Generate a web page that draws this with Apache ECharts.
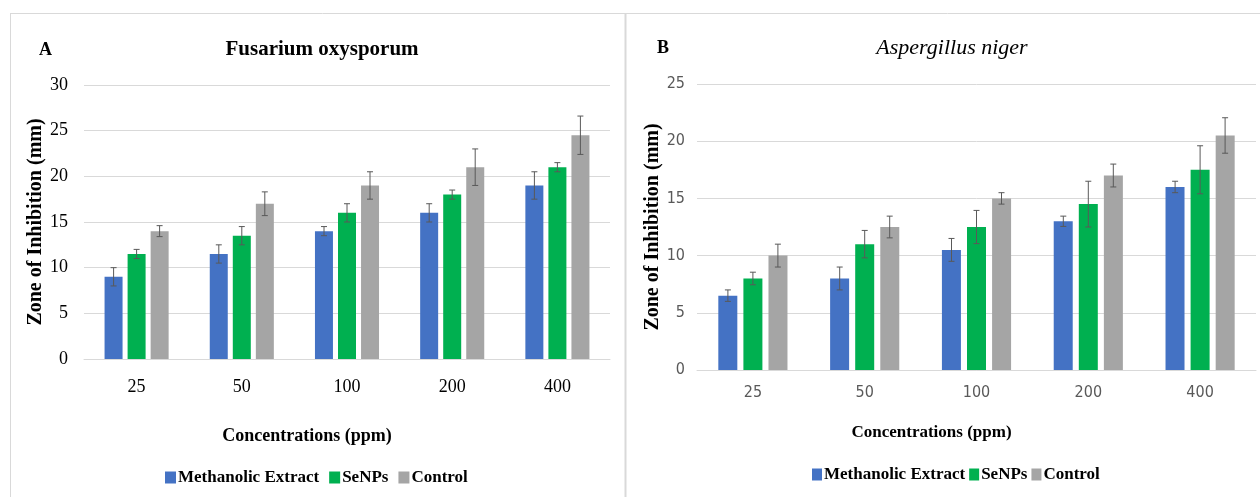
<!DOCTYPE html>
<html>
<head>
<meta charset="utf-8">
<script src="https://cdn.jsdelivr.net/npm/echarts@6/dist/echarts.min.js"></script>
<style>
  html, body { margin: 0; padding: 0; background: #fff; }
  #chart { width: 1260px; height: 497px; }
</style>
</head>
<body>
<div id="chart"></div>
<script>
const METH_COLOR = '#4472c4'
const SENP_COLOR = '#00b050'
const CTRL_COLOR = '#a5a5a5'
const ERR_COLOR = '#595959'
const GRID_COLOR = '#d9d9d9'
const SERIF = '"Liberation Serif", "Times New Roman", serif'
const NARROW = '"Liberation Sans Narrow", "DejaVu Sans Condensed", sans-serif'

const CATEGORIES = ['25', '50', '100', '200', '400']
const SERIES_NAMES = ['Methanolic Extract', 'SeNPs', 'Control']

// A - Fusarium oxysporum
const FUS_METH = [9, 11.5, 14, 16, 19]
const FUS_METH_ERR = [1, 1, 0.5, 1, 1.5]
const FUS_SENP = [11.5, 13.5, 16, 18, 21]
const FUS_SENP_ERR = [0.5, 1, 1, 0.5, 0.5]
const FUS_CTRL = [14, 17, 19, 21, 24.5]
const FUS_CTRL_ERR = [0.6, 1.3, 1.5, 2, 2.1]
const FUS_Y_MAX = 30

// B - Aspergillus niger
const ASP_METH = [6.5, 8, 10.5, 13, 16]
const ASP_METH_ERR = [0.5, 1, 1, 0.45, 0.5]
const ASP_SENP = [8, 11, 12.5, 14.5, 17.5]
const ASP_SENP_ERR = [0.55, 1.2, 1.45, 2, 2.1]
const ASP_CTRL = [10, 12.5, 15, 17, 20.5]
const ASP_CTRL_ERR = [1, 0.95, 0.5, 1, 1.55]
const ASP_Y_MAX = 25

const Y_STEP = 5

const errorRender = (offset) => (params, api) => {
  const lo = api.coord([api.value(0), api.value(1)])
  const hi = api.coord([api.value(0), api.value(2)])
  const x = lo[0] + offset
  const style = { stroke: ERR_COLOR, lineWidth: 1 }
  return {
    type: 'group',
    children: [
      { type: 'line', shape: { x1: x, y1: lo[1], x2: x, y2: hi[1] }, style },
      { type: 'line', shape: { x1: x - 3, y1: lo[1], x2: x + 3, y2: lo[1] }, style },
      { type: 'line', shape: { x1: x - 3, y1: hi[1], x2: x + 3, y2: hi[1] }, style }
    ]
  }
}

const makeSeries = (gridIdx, groups, barW, gap) => {
  const colors = [METH_COLOR, SENP_COLOR, CTRL_COLOR]
  const out = []
  groups.forEach((g, i) => {
    out.push({
      name: SERIES_NAMES[i],
      type: 'bar',
      xAxisIndex: gridIdx,
      yAxisIndex: gridIdx,
      barWidth: barW,
      barGap: Math.round(gap / barW * 100) + '%',
      itemStyle: { color: colors[i] },
      data: g.values
    })
  })
  groups.forEach((g, i) => {
    out.push({
      type: 'custom',
      xAxisIndex: gridIdx,
      yAxisIndex: gridIdx,
      z: 5,
      silent: true,
      renderItem: errorRender((i - 1) * (barW + gap)),
      encode: { x: 0, y: [1, 2] },
      data: g.values.map((v, k) => [k, v - g.errs[k], v + g.errs[k]])
    })
  })
  return out
}

const chart = echarts.init(document.getElementById('chart'))

const leftAxisText = { fontFamily: SERIF, fontSize: 18, color: '#000' }
const rightAxisText = { fontFamily: NARROW, fontSize: 16, color: '#595959' }

chart.setOption({
  animation: false,
  title: [
    { text: 'A', left: 34, top: 36, textStyle: { fontFamily: SERIF, fontWeight: 'bold', fontSize: 18, color: '#000' } },
    { text: 'Fusarium oxysporum', left: 317, top: 34, textAlign: 'center', textStyle: { fontFamily: SERIF, fontWeight: 'bold', fontSize: 21, color: '#000' } },
    { text: 'B', left: 652, top: 34, textStyle: { fontFamily: SERIF, fontWeight: 'bold', fontSize: 18, color: '#000' } },
    { text: 'Aspergillus niger', left: 947, top: 32, textAlign: 'center', textStyle: { fontFamily: SERIF, fontStyle: 'italic', fontWeight: 'normal', fontSize: 22, color: '#000' } }
  ],
  legend: [
    {
      data: SERIES_NAMES, left: 160, top: 464, itemWidth: 11, itemHeight: 12, itemGap: 10,
      icon: 'rect', textStyle: { fontFamily: SERIF, fontWeight: 'bold', fontSize: 17, color: '#000', padding: [0, 0, 0, -3] }
    },
    {
      data: SERIES_NAMES, left: 807, top: 461, itemWidth: 10, itemHeight: 12, itemGap: 4,
      icon: 'rect', textStyle: { fontFamily: SERIF, fontWeight: 'bold', fontSize: 17, color: '#000', padding: [0, 0, 0, -3] }
    }
  ],
  grid: [
    { left: 84, top: 85, width: 526, height: 274 },
    { left: 697, top: 84, width: 559, height: 286 }
  ],
  xAxis: [
    {
      gridIndex: 0, type: 'category', data: CATEGORIES,
      axisLine: { lineStyle: { color: GRID_COLOR, width: 1 } },
      axisTick: { show: false },
      axisLabel: { ...leftAxisText, margin: 19 },
      name: 'Concentrations (ppm)', nameLocation: 'middle', nameGap: 68,
      nameTextStyle: { fontFamily: SERIF, fontWeight: 'bold', fontSize: 18, color: '#000', padding: [0, 80, 0, 0] }
    },
    {
      gridIndex: 1, type: 'category', data: CATEGORIES,
      axisLine: { lineStyle: { color: GRID_COLOR, width: 1 } },
      axisTick: { show: false },
      axisLabel: { ...rightAxisText, margin: 15 },
      name: 'Concentrations (ppm)', nameLocation: 'middle', nameGap: 54,
      nameTextStyle: { fontFamily: SERIF, fontWeight: 'bold', fontSize: 17, color: '#000', padding: [0, 90, 0, 0] }
    }
  ],
  yAxis: [
    {
      gridIndex: 0, type: 'value', min: 0, max: FUS_Y_MAX, interval: Y_STEP,
      axisLine: { show: false }, axisTick: { show: false },
      splitLine: { lineStyle: { color: GRID_COLOR, width: 1 } },
      axisLabel: { ...leftAxisText, margin: 16 },
      name: 'Zone of Inhibition (mm)', nameLocation: 'middle', nameGap: 34,
      nameTextStyle: { fontFamily: SERIF, fontWeight: 'bold', fontSize: 20, color: '#000' }
    },
    {
      gridIndex: 1, type: 'value', min: 0, max: ASP_Y_MAX, interval: Y_STEP,
      axisLine: { show: false }, axisTick: { show: false },
      splitLine: { lineStyle: { color: GRID_COLOR, width: 1 } },
      axisLabel: { ...rightAxisText, margin: 12 },
      name: 'Zone of Inhibition (mm)', nameLocation: 'middle', nameGap: 33,
      nameTextStyle: { fontFamily: SERIF, fontWeight: 'bold', fontSize: 20, color: '#000' }
    }
  ],
  graphic: [
    { type: 'line', shape: { x1: 10.5, y1: 13.5, x2: 10.5, y2: 497 }, style: { stroke: GRID_COLOR, lineWidth: 1 } },
    { type: 'line', shape: { x1: 10, y1: 13.5, x2: 1260, y2: 13.5 }, style: { stroke: GRID_COLOR, lineWidth: 1 } },
    { type: 'line', shape: { x1: 625.5, y1: 13, x2: 625.5, y2: 497 }, style: { stroke: GRID_COLOR, lineWidth: 2 } }
  ],
  series: [
    ...makeSeries(0, [
      { values: FUS_METH, errs: FUS_METH_ERR },
      { values: FUS_SENP, errs: FUS_SENP_ERR },
      { values: FUS_CTRL, errs: FUS_CTRL_ERR }
    ], 18, 5),
    ...makeSeries(1, [
      { values: ASP_METH, errs: ASP_METH_ERR },
      { values: ASP_SENP, errs: ASP_SENP_ERR },
      { values: ASP_CTRL, errs: ASP_CTRL_ERR }
    ], 19, 6)
  ]
})
</script>
</body>
</html>
